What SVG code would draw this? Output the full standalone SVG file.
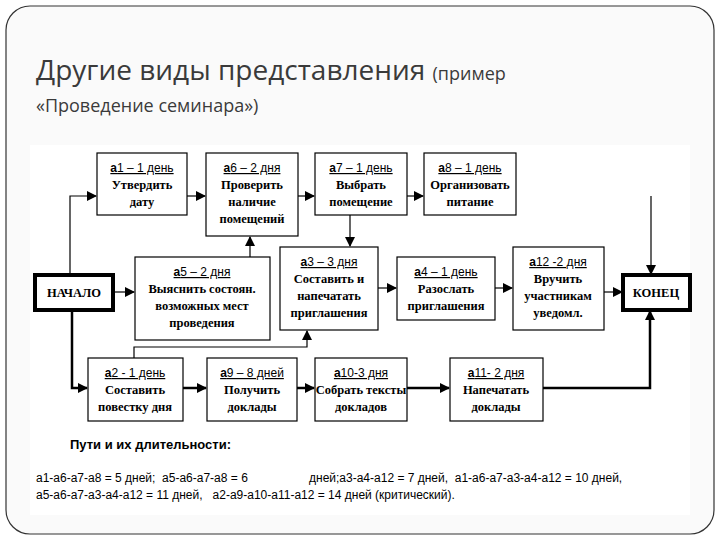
<svg xmlns="http://www.w3.org/2000/svg" width="720" height="540" viewBox="0 0 720 540">
<defs>
<marker id="ar" markerWidth="10" markerHeight="10" refX="9" refY="5" orient="auto" markerUnits="userSpaceOnUse"><path d="M0,0 L10,5 L0,10 Z" fill="#000"/></marker>
</defs>
<style>
.b{fill:#fff;stroke:#000;stroke-width:1.2}
.t{fill:#fff;stroke:#000;stroke-width:4}
.h{font-family:"Liberation Sans",Arial,sans-serif;font-size:12px;text-anchor:middle;text-decoration:underline}
.h tspan.k{font-weight:bold}
.x{font-family:"Liberation Serif","Times New Roman",serif;font-size:12.5px;font-weight:bold;text-anchor:middle}
.c{fill:none;stroke:#000;stroke-width:1.2}
.cb{fill:none;stroke:#000;stroke-width:2.5}
.p{font-family:"Liberation Sans",Arial,sans-serif;font-size:12px;white-space:pre}
</style>
<rect x="0" y="0" width="720" height="540" fill="#fff"/>
<rect x="6" y="6" width="708" height="528" rx="24" fill="#fafafa" stroke="#333" stroke-width="1.2"/>
<text x="36" y="80" font-family="'Open Sans',sans-serif" font-size="28" fill="#3a3a3a">Другие виды представления <tspan font-size="18">(пример</tspan></text>
<text x="36" y="112" font-family="'Open Sans',sans-serif" font-size="18" fill="#3a3a3a">«Проведение семинара»)</text>
<rect x="30" y="145" width="660" height="370" fill="#fff"/>
<g id="connectors">
<path class="c" d="M70,275 V196 H96" marker-end="url(#ar)"/>
<path class="c" d="M187,196 H205" marker-end="url(#ar)"/>
<path class="c" d="M298,196 H314" marker-end="url(#ar)"/>
<path class="c" d="M407,196 H423" marker-end="url(#ar)"/>
<path class="c" d="M350,215 V246" marker-end="url(#ar)"/>
<path class="c" d="M250,257 V237" marker-end="url(#ar)"/>
<path class="c" d="M113,292 H134" marker-end="url(#ar)"/>
<path class="c" d="M378,288 H396" marker-end="url(#ar)"/>
<path class="c" d="M495,288 H512" marker-end="url(#ar)"/>
<path class="c" d="M604,292 H622" marker-end="url(#ar)"/>
<path class="c" d="M651,196 V274" marker-end="url(#ar)"/>
<path class="c" d="M134,358 V347 H307 V331" marker-end="url(#ar)"/>
<path class="cb" d="M72,310 V388 H87" marker-end="url(#ar)"/>
<path class="cb" d="M183,388 H206" marker-end="url(#ar)"/>
<path class="cb" d="M297,388 H314" marker-end="url(#ar)"/>
<path class="cb" d="M407,388 H449" marker-end="url(#ar)"/>
<path class="cb" d="M543,388 H650 V311" marker-end="url(#ar)"/>
</g>
<g id="start"><rect class="t" x="35" y="275" width="78" height="35"/><text class="x" x="74" y="297" font-weight="normal">НАЧАЛО</text></g>
<g id="end"><rect class="t" x="623" y="275" width="67" height="35"/><text class="x" x="656" y="297" font-weight="normal">КОНЕЦ</text></g>
<g id="a1"><rect class="b" x="97" y="153" width="90" height="62"/><text class="h" x="142" y="172"><tspan class="k">а</tspan>1 – 1 день</text><text class="x" x="142" y="189">Утвердить</text><text class="x" x="142" y="206">дату</text></g>
<g id="a6"><rect class="b" x="206" y="153" width="92" height="83"/><text class="h" x="252" y="172"><tspan class="k">а</tspan>6 – 2 дня</text><text class="x" x="252" y="189">Проверить</text><text class="x" x="252" y="206">наличие</text><text class="x" x="252" y="223">помещений</text></g>
<g id="a7"><rect class="b" x="315" y="153" width="92" height="62"/><text class="h" x="361" y="172"><tspan class="k">а</tspan>7 – 1 день</text><text class="x" x="361" y="189">Выбрать</text><text class="x" x="361" y="206">помещение</text></g>
<g id="a8"><rect class="b" x="424" y="153" width="92" height="62"/><text class="h" x="470" y="172"><tspan class="k">а</tspan>8 – 1 день</text><text class="x" x="470" y="189">Организовать</text><text class="x" x="470" y="206">питание</text></g>
<g id="a5"><rect class="b" x="135" y="257" width="135" height="83"/><text class="h" x="202" y="276"><tspan class="k">а</tspan>5 – 2 дня</text><text class="x" x="202" y="293">Выяснить состоян.</text><text class="x" x="202" y="310">возможных мест</text><text class="x" x="202" y="327">проведения</text></g>
<g id="a3"><rect class="b" x="280" y="247" width="98" height="83"/><text class="h" x="329" y="266"><tspan class="k">а</tspan>3 – 3 дня</text><text class="x" x="329" y="283">Составить и</text><text class="x" x="329" y="300">напечатать</text><text class="x" x="329" y="317">приглашения</text></g>
<g id="a4"><rect class="b" x="397" y="257" width="98" height="63"/><text class="h" x="446" y="276"><tspan class="k">а</tspan>4 – 1 день</text><text class="x" x="446" y="293">Разослать</text><text class="x" x="446" y="310">приглашения</text></g>
<g id="a12"><rect class="b" x="513" y="247" width="91" height="83"/><text class="h" x="558" y="266"><tspan class="k">а</tspan>12 -2 дня</text><text class="x" x="558" y="283">Вручить</text><text class="x" x="558" y="300">участникам</text><text class="x" x="558" y="317">уведомл.</text></g>
<g id="a2"><rect class="b" x="88" y="358" width="95" height="63"/><text class="h" x="135" y="377"><tspan class="k">а</tspan>2 - 1 день</text><text class="x" x="135" y="394">Составить</text><text class="x" x="135" y="411">повестку дня</text></g>
<g id="a9"><rect class="b" x="207" y="358" width="90" height="63"/><text class="h" x="252" y="377"><tspan class="k">а</tspan>9 – 8 дней</text><text class="x" x="252" y="394">Получить</text><text class="x" x="252" y="411">доклады</text></g>
<g id="a10"><rect class="b" x="315" y="358" width="92" height="63"/><text class="h" x="361" y="377"><tspan class="k">а</tspan>10-3 дня</text><text class="x" x="361" y="394">Собрать тексты</text><text class="x" x="361" y="411">докладов</text></g>
<g id="a11"><rect class="b" x="450" y="358" width="93" height="63"/><text class="h" x="496" y="377"><tspan class="k">а</tspan>11- 2 дня</text><text class="x" x="496" y="394">Напечатать</text><text class="x" x="496" y="411">доклады</text></g>
<text x="70" y="449" font-family="'Liberation Sans',Arial,sans-serif" font-size="13" font-weight="bold">Пути и их длительности:</text>
<text class="p" x="36" y="482">а1-а6-а7-а8 = 5 дней;  а5-а6-а7-а8 = 6</text>
<text class="p" x="309" y="482">дней;а3-а4-а12 = 7 дней,  а1-а6-а7-а3-а4-а12 = 10 дней,</text>
<text class="p" x="36" y="499">а5-а6-а7-а3-а4-а12 = 11 дней,   а2-а9-а10-а11-а12 = 14 дней (критический).</text>
</svg>
